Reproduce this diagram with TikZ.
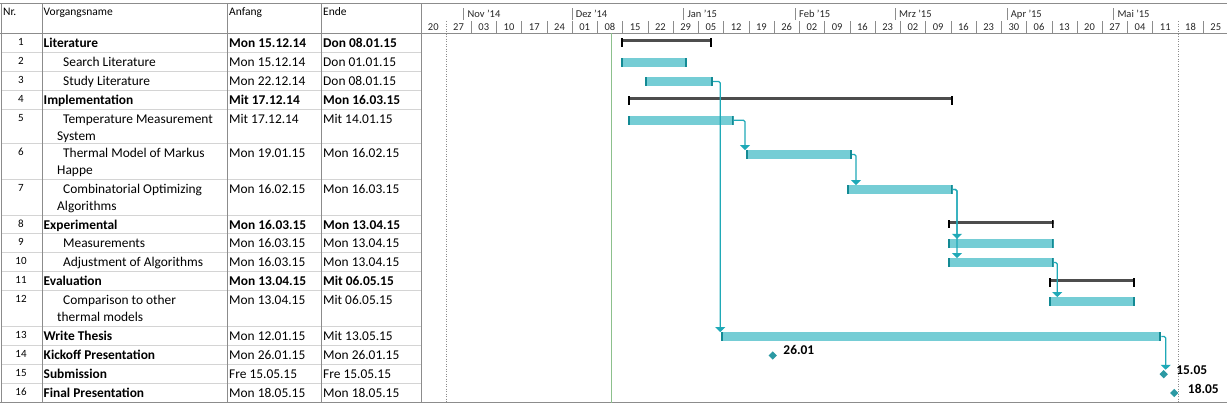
\documentclass[tikz,border=0pt]{standalone}
\usepackage{fontspec}
\setmainfont{Carlito}
\usetikzlibrary{arrows.meta,shapes.geometric,positioning}
\definecolor{barfill}{HTML}{75CDD5}
\definecolor{barcap}{HTML}{138A94}
\definecolor{linkcol}{HTML}{1FA9B7}
\definecolor{sumgray}{HTML}{4D4D4D}
\definecolor{milecol}{HTML}{2B99A3}
\definecolor{todaycol}{HTML}{8CC08C}
\definecolor{griddark}{HTML}{8C8C8C}
\definecolor{gridlight}{HTML}{D4D4D4}
\tikzset{
  cell/.style={anchor=base west, inner sep=0pt, font=\fontsize{13.4}{16}\selectfont},
  boldcell/.style={cell, font=\fontsize{13.4}{16}\selectfont\bfseries},
  nr/.style={anchor=base, inner sep=0pt, font=\fontsize{11}{13}\selectfont},
  head/.style={anchor=base west, inner sep=0pt, font=\fontsize{11.5}{13}\selectfont},
  scale label/.style={anchor=base, inner sep=0pt, font=\fontsize{10.5}{12}\selectfont, text=black!85},
  taskbar/.style={anchor=west, fill=barfill, minimum height=8.5pt, inner sep=0pt,
    path picture={\fill[barcap] (path picture bounding box.north west) rectangle ([xshift=2pt]path picture bounding box.south west);
      \fill[barcap] ([xshift=-2pt]path picture bounding box.north east) rectangle (path picture bounding box.south east);}},
  summary/.style={anchor=west, minimum height=8.5pt, inner sep=0pt,
    path picture={\fill[sumgray] ([yshift=-0.8pt]path picture bounding box.north west) rectangle ([yshift=-3.8pt]path picture bounding box.north east);
      \fill[black] (path picture bounding box.north west) rectangle ([xshift=2pt]path picture bounding box.south west);
      \fill[black] ([xshift=-2pt]path picture bounding box.north east) rectangle (path picture bounding box.south east);}},
  milestone/.style={diamond, fill=milecol, inner sep=0pt, minimum width=8.5pt, minimum height=8.5pt},
  mslabel/.style={inner sep=0pt, font=\fontsize{13.4}{16}\selectfont\bfseries},
  link/.style={draw=linkcol, line width=1.2pt, rounded corners=1.5pt, -{Triangle[width=10pt,length=5pt]}}
}
\begin{document}
\begin{tikzpicture}[x=1pt, y=-1pt]
	\useasboundingbox (0,0) rectangle (1227,407);
	\draw[gridlight] (1,52) -- (420.7,52) (1,71) -- (420.7,71) (1,90) -- (420.7,90) (1,109) -- (420.7,109)
		(1,143) -- (420.7,143) (1,179) -- (420.7,179) (1,215) -- (420.7,215) (1,233) -- (420.7,233)
		(1,252) -- (420.7,252) (1,271) -- (420.7,271) (1,290) -- (420.7,290) (1,326) -- (420.7,326)
		(1,345) -- (420.7,345) (1,364) -- (420.7,364) (1,383) -- (420.7,383);
	\draw[griddark] (0,3.5) -- (1227,3.5) (0,33) -- (1227,33) (0,402.5) -- (1227,402.5);
	\draw[griddark] (1,3.5) -- (1,402.5) (42,3.5) -- (42,402.5) (227,3.5) -- (227,402.5) (321,3.5) -- (321,402.5) (420.7,3.5) -- (420.7,402.5);
	\draw[griddark] (463.3,8) -- (463.3,20) (571.7,8) -- (571.7,20) (683.3,8) -- (683.3,20) (795,8) -- (795,20)
		(895,8) -- (895,20) (1006.7,8) -- (1006.7,20) (1113.3,8) -- (1113.3,20);
	\foreach \k in {2,...,29} \draw[griddark] (420.7+25.24*\k,21) -- (420.7+25.24*\k,33);
	\draw[griddark] (1203.1,21) -- (1203.1,33);
	\draw[griddark, dash pattern=on 1pt off 1.5pt] (445.9,21) -- (445.9,402.5) (1177.9,21) -- (1177.9,402.5);
	\draw[todaycol, line width=1pt] (611.5,33) -- (611.5,402.5);

	\node[head] (hnr) at (3,15) {Nr.};
	\node[head] (hname) at (43.5,15) {Vorgangsname};
	\node[head] (hstart) at (229,15) {Anfang};
	\node[head] (hend) at (323,15) {Ende};

	\node[scale label, anchor=base west] (nov) at (467.5,17.5) {Nov '14};
	\node[scale label, anchor=base west] (dez) at (575.7,17.5) {Dez '14};
	\node[scale label, anchor=base west] (jan) at (687.3,17.5) {Jan '15};
	\node[scale label, anchor=base west] (feb) at (799,17.5) {Feb '15};
	\node[scale label, anchor=base west] (mrz) at (899,17.5) {Mrz '15};
	\node[scale label, anchor=base west] (apr) at (1010.7,17.5) {Apr '15};
	\node[scale label, anchor=base west] (mai) at (1117.3,17.5) {Mai '15};
	\foreach \w [count=\k from 0] in {20,27,03,10,17,24,01,08,15,22,29,05,12,19,26,02,09,16,23,02,09,16,23,30,06,13,20,27,04,11,18,25}
		\node[scale label] (w\k) at (433.3+25.24*\k,30) {\w};

	\node[nr] (nr1) at (21,45) {1};
	\node[nr] (nr2) at (21,64) {2};
	\node[nr] (nr3) at (21,83) {3};
	\node[nr] (nr4) at (21,102) {4};
	\node[nr] (nr5) at (21,121) {5};
	\node[nr] (nr6) at (21,155) {6};
	\node[nr] (nr7) at (21,191) {7};
	\node[nr] (nr8) at (21,227) {8};
	\node[nr] (nr9) at (21,245) {9};
	\node[nr] (nr10) at (21,264) {10};
	\node[nr] (nr11) at (21,283) {11};
	\node[nr] (nr12) at (21,302) {12};
	\node[nr] (nr13) at (21,338) {13};
	\node[nr] (nr14) at (21,357) {14};
	\node[nr] (nr15) at (21,376) {15};
	\node[nr] (nr16) at (21,395) {16};

	\node[boldcell] (name1) at (43.5,47.5) {Literature};
	\node[cell] (name2) at (63,66.5) {Search Literature};
	\node[cell] (name3) at (63,85.5) {Study Literature};
	\node[boldcell] (name4) at (43.5,104.5) {Implementation};
	\node[cell] (name5) at (63,123.5) {Temperature Measurement};
	\node[cell] (name5b) at (57,140) {System};
	\node[cell] (name6) at (63,157.5) {Thermal Model of Markus};
	\node[cell] (name6b) at (57,174) {Happe};
	\node[cell] (name7) at (63,193.5) {Combinatorial Optimizing};
	\node[cell] (name7b) at (57,210) {Algorithms};
	\node[boldcell] (name8) at (43.5,229.5) {Experimental};
	\node[cell] (name9) at (63,247.5) {Measurements};
	\node[cell] (name10) at (63,266.5) {Adjustment of Algorithms};
	\node[boldcell] (name11) at (43.5,285.5) {Evaluation};
	\node[cell] (name12) at (63,304.5) {Comparison to other};
	\node[cell] (name12b) at (57,321) {thermal models};
	\node[boldcell] (name13) at (43.5,340.5) {Write Thesis};
	\node[boldcell] (name14) at (43.5,359.5) {Kickoff Presentation};
	\node[boldcell] (name15) at (43.5,378.5) {Submission};
	\node[boldcell] (name16) at (43.5,397.5) {Final Presentation};

	\node[boldcell] (start1) at (229,47.5) {Mon 15.12.14};
	\node[cell] (start2) at (229,66.5) {Mon 15.12.14};
	\node[cell] (start3) at (229,85.5) {Mon 22.12.14};
	\node[boldcell] (start4) at (229,104.5) {Mit 17.12.14};
	\node[cell] (start5) at (229,123.5) {Mit 17.12.14};
	\node[cell] (start6) at (229,157.5) {Mon 19.01.15};
	\node[cell] (start7) at (229,193.5) {Mon 16.02.15};
	\node[boldcell] (start8) at (229,229.5) {Mon 16.03.15};
	\node[cell] (start9) at (229,247.5) {Mon 16.03.15};
	\node[cell] (start10) at (229,266.5) {Mon 16.03.15};
	\node[boldcell] (start11) at (229,285.5) {Mon 13.04.15};
	\node[cell] (start12) at (229,304.5) {Mon 13.04.15};
	\node[cell] (start13) at (229,340.5) {Mon 12.01.15};
	\node[cell] (start14) at (229,359.5) {Mon 26.01.15};
	\node[cell] (start15) at (229,378.5) {Fre 15.05.15};
	\node[cell] (start16) at (229,397.5) {Mon 18.05.15};

	\node[boldcell] (end1) at (323,47.5) {Don 08.01.15};
	\node[cell] (end2) at (323,66.5) {Don 01.01.15};
	\node[cell] (end3) at (323,85.5) {Don 08.01.15};
	\node[boldcell] (end4) at (323,104.5) {Mon 16.03.15};
	\node[cell] (end5) at (323,123.5) {Mit 14.01.15};
	\node[cell] (end6) at (323,157.5) {Mon 16.02.15};
	\node[cell] (end7) at (323,193.5) {Mon 16.03.15};
	\node[boldcell] (end8) at (323,229.5) {Mon 13.04.15};
	\node[cell] (end9) at (323,247.5) {Mon 13.04.15};
	\node[cell] (end10) at (323,266.5) {Mon 13.04.15};
	\node[boldcell] (end11) at (323,285.5) {Mit 06.05.15};
	\node[cell] (end12) at (323,304.5) {Mit 06.05.15};
	\node[cell] (end13) at (323,340.5) {Mit 13.05.15};
	\node[cell] (end14) at (323,359.5) {Mon 26.01.15};
	\node[cell] (end15) at (323,378.5) {Fre 15.05.15};
	\node[cell] (end16) at (323,397.5) {Mon 18.05.15};

	\node[summary, minimum width=91pt] (s1) at (620.7,42.5) {};
	\node[taskbar, minimum width=66.5pt] (b2) at (620.5,62.5) {};
	\node[taskbar, minimum width=67.7pt] (b3) at (645,81.5) {};
	\node[summary, minimum width=325pt] (s4) at (627.7,100.5) {};
	\node[taskbar, minimum width=105.6pt] (b5) at (627.7,120.3) {};
	\node[taskbar, minimum width=105.7pt] (b6) at (746,154.5) {};
	\node[taskbar, minimum width=105.6pt] (b7) at (846.7,189.5) {};
	\node[summary, minimum width=105.6pt] (s8) at (947.7,224.2) {};
	\node[taskbar, minimum width=105.6pt] (b9) at (947.7,243.3) {};
	\node[taskbar, minimum width=105.6pt] (b10) at (947.7,262.5) {};
	\node[summary, minimum width=86pt] (s11) at (1049,282.5) {};
	\node[taskbar, minimum width=86pt] (b12) at (1049,301.5) {};
	\node[taskbar, minimum width=440.3pt] (b13) at (720.7,336.5) {};
	\node[milestone] (m14) at (772.8,355.5) {};
	\node[milestone] (m15) at (1163.7,374.2) {};
	\node[milestone] (m16) at (1174.3,393) {};
	\node[mslabel, right=6pt of m14, yshift=5.5pt] (t14) {26.01};
	\node[mslabel, right=8pt of m15, yshift=4pt] (t15) {15.05};
	\node[mslabel, right=9pt of m16, yshift=3.7pt] (t16) {18.05};

	\draw[link] (b3.east) -| ([xshift=-0.5pt]b13.north west);
	\draw[link] (b5.east) -| ([xshift=-1pt]b6.north west);
	\draw[link] (b6.east) -| ([xshift=9.3pt]b7.north west);
	\draw[link] (b7.east) -| ([xshift=9.3pt]b9.north west);
	\draw[link] (b7.east) -| ([xshift=9.3pt]b10.north west);
	\draw[link] (b10.east) -| ([xshift=8.3pt]b12.north west);
	\draw[link] (b13.east) -| ([xshift=2pt]m15.north);
\end{tikzpicture}
\end{document}
